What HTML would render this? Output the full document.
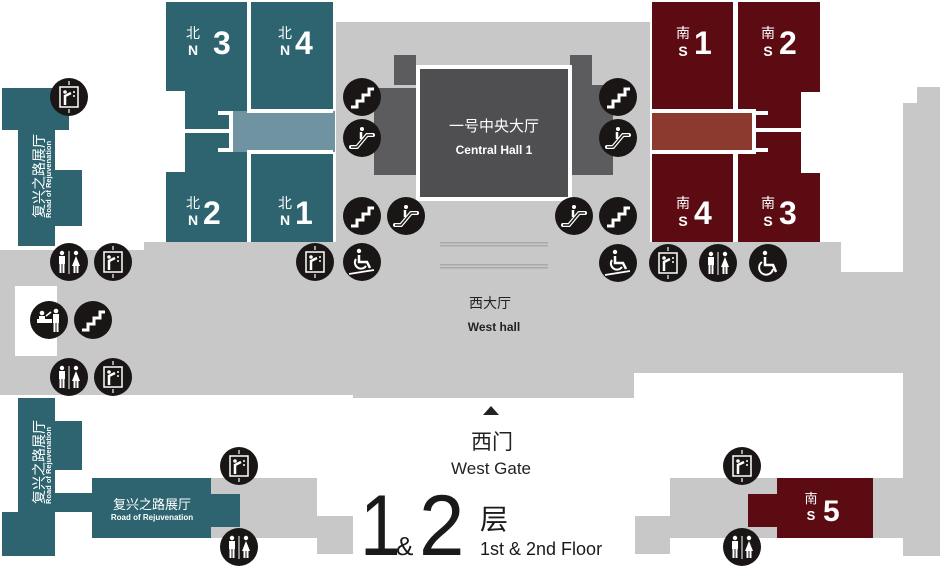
<!DOCTYPE html>
<html><head><meta charset="utf-8"><style>
html,body{margin:0;padding:0;background:#fff;width:940px;height:570px;overflow:hidden}
svg{display:block}
text{font-family:"Liberation Sans","Noto Sans CJK SC",sans-serif}
</style></head><body>
<svg width="940" height="570" viewBox="0 0 940 570" xmlns="http://www.w3.org/2000/svg">
<defs>
<symbol id="stairs" viewBox="-19 -19 38 38"><circle r="19" fill="#1a1616"/><path d="M-11 10 H-5 V4 H1 V-2 H7 V-8 H12" fill="none" stroke="#fff" stroke-width="3"/></symbol>
<symbol id="esc" viewBox="-19 -19 38 38"><circle r="19" fill="#1a1616"/><path d="M-11 9 H-5 L5 -3 H11" fill="none" stroke="#fff" stroke-width="4" stroke-linecap="round"/><path d="M-11 9 H-5 L5 -3 H11" fill="none" stroke="#1a1616" stroke-width="1.5"/><circle cx="0" cy="-9" r="2" fill="#fff"/><path d="M-1 -6 V1" stroke="#fff" stroke-width="2.5"/></symbol>
<symbol id="elev" viewBox="-19 -19 38 38"><circle r="19" fill="#1a1616"/><rect x="-9" y="-10" width="18" height="20" fill="none" stroke="#fff" stroke-width="1.5"/><circle cx="-4" cy="-5" r="1.8" fill="#fff"/><path d="M-4 -2 V8 M-4 -1 L2 -4" stroke="#fff" stroke-width="2.5"/><path d="M5 -6 V-4 M5 -2 V0" stroke="#fff" stroke-width="1.5"/><path d="M0 -16 V-12 M0 12 V16" stroke="#fff" stroke-width="1.2"/></symbol>
<symbol id="wc" viewBox="-19 -19 38 38"><circle r="19" fill="#1a1616"/><circle cx="-7" cy="-9" r="2.2" fill="#fff"/><rect x="-10" y="-6" width="6" height="8" fill="#fff"/><path d="M-8.5 2 V11 M-5.5 2 V11" stroke="#fff" stroke-width="2"/><path d="M0 -11 V12" stroke="#fff" stroke-width="1"/><circle cx="7" cy="-9" r="2.2" fill="#fff"/><path d="M7 -6 L3 4 H11 Z" fill="#fff"/><path d="M5.5 4 V11 M8.5 4 V11" stroke="#fff" stroke-width="2"/></symbol>
<symbol id="wheel" viewBox="-19 -19 38 38"><circle r="19" fill="#1a1616"/><circle cx="-3" cy="-10" r="2.2" fill="#fff"/><path d="M-3 -6 V2 H5 L8 9" fill="none" stroke="#fff" stroke-width="2.5"/><path d="M-6 -1 A7 7 0 1 0 5 6" fill="none" stroke="#fff" stroke-width="2"/></symbol>
<symbol id="wheelr" viewBox="-19 -19 38 38"><circle r="19" fill="#1a1616"/><circle cx="-3" cy="-11" r="2.2" fill="#fff"/><path d="M-3 -7 V0 H5 L8 6" fill="none" stroke="#fff" stroke-width="2.5"/><path d="M-6 -3 A6 6 0 1 0 4 4" fill="none" stroke="#fff" stroke-width="2"/><path d="M-13 12 L12 8" stroke="#fff" stroke-width="1.8"/></symbol>
<symbol id="info" viewBox="-19 -19 38 38"><circle r="19" fill="#1a1616"/><rect x="-12" y="-1" width="15" height="4" fill="#fff"/><circle cx="-7" cy="-7" r="2.3" fill="#fff"/><rect x="-10" y="-4" width="6" height="4" fill="#fff"/><circle cx="7" cy="-9" r="2.3" fill="#fff"/><rect x="4" y="-6" width="6" height="9" fill="#fff"/><path d="M5.5 3 V12 M8.5 3 V12" stroke="#fff" stroke-width="2"/><path d="M-3 -4 L2 -8" stroke="#fff" stroke-width="1.5"/></symbol>
</defs>

<g fill="#c8c8c9">
<rect x="336" y="22" width="314" height="222"/>
<rect x="144" y="242" width="697" height="60"/>
<rect x="0" y="250" width="144" height="145"/>
<rect x="0" y="272" width="940" height="101"/>
<rect x="144" y="290" width="490" height="105"/>
<rect x="353" y="290" width="281" height="108"/>
<rect x="903" y="103" width="37" height="453"/>
<rect x="917" y="87" width="23" height="30"/>
<rect x="211" y="478" width="106" height="60"/>
<rect x="317" y="516" width="36" height="38"/>
<rect x="670" y="478" width="233" height="60"/>
<rect x="635" y="516" width="35" height="38"/>
</g>
<rect x="15" y="286" width="42" height="70" fill="#fff"/>

<rect x="374" y="88" width="46" height="87" fill="#5c5b5d"/>
<rect x="394" y="55" width="22" height="30" fill="#5c5b5d"/>
<rect x="568" y="85" width="45" height="90" fill="#5c5b5d"/>
<rect x="570" y="55" width="22" height="30" fill="#5c5b5d"/>
<rect x="416" y="65" width="156" height="136" fill="#fff"/>
<rect x="420" y="69" width="148" height="128" fill="#4f4e50"/>
<g fill="#a9a9aa"><rect x="440" y="242" width="108" height="1.5"/><rect x="440" y="245" width="108" height="1.5"/><rect x="440" y="264" width="108" height="1.5"/><rect x="440" y="267" width="108" height="1.5"/></g>
<text x="494" y="131" font-size="15" fill="#fff" text-anchor="middle">一号中央大厅</text>
<text x="494" y="154" font-size="12" font-weight="bold" fill="#fff" text-anchor="middle">Central Hall 1</text>

<rect x="166" y="2" width="167" height="240" fill="#2d6470"/>
<rect x="166" y="91" width="19" height="81" fill="#fff"/>
<rect x="233" y="111" width="102" height="41" fill="#6f93a0"/>
<g fill="#fff">
<rect x="247" y="2" width="4" height="109"/><rect x="247" y="152" width="4" height="90"/>
<rect x="247" y="109" width="86" height="4"/><rect x="247" y="150" width="86" height="4"/>
<rect x="218" y="111" width="15" height="4"/><rect x="218" y="148" width="15" height="4"/><rect x="229" y="111" width="4" height="41"/>
<rect x="185" y="129" width="48" height="4"/>
</g>
<g fill="#fff" font-weight="bold">
<text x="193" y="38" font-size="14" font-weight="normal" text-anchor="middle">北</text><text x="193" y="55" font-size="14" text-anchor="middle">N</text><text x="213" y="54" font-size="32">3</text>
<text x="285" y="38" font-size="14" font-weight="normal" text-anchor="middle">北</text><text x="285" y="55" font-size="14" text-anchor="middle">N</text><text x="295" y="54" font-size="32">4</text>
<text x="193" y="208" font-size="14" font-weight="normal" text-anchor="middle">北</text><text x="193" y="225" font-size="14" text-anchor="middle">N</text><text x="203" y="224" font-size="32">2</text>
<text x="285" y="208" font-size="14" font-weight="normal" text-anchor="middle">北</text><text x="285" y="225" font-size="14" text-anchor="middle">N</text><text x="295" y="224" font-size="32">1</text>
</g>

<rect x="652" y="2" width="168" height="240" fill="#5c0b12"/>
<rect x="801" y="92" width="20" height="81" fill="#fff"/>
<rect x="652" y="111" width="100" height="41" fill="#8c3a2f"/>
<g fill="#fff">
<rect x="733" y="2" width="5" height="109"/><rect x="733" y="152" width="5" height="90"/>
<rect x="652" y="109" width="104" height="4"/><rect x="652" y="150" width="104" height="4"/>
<rect x="752" y="111" width="4" height="41"/><rect x="752" y="111" width="16" height="4"/><rect x="752" y="148" width="16" height="4"/>
<rect x="756" y="128" width="45" height="4"/>
</g>
<g fill="#fff" font-weight="bold">
<text x="683" y="38" font-size="14" font-weight="normal" text-anchor="middle">南</text><text x="683" y="56" font-size="14" text-anchor="middle">S</text><text x="694" y="54" font-size="32">1</text>
<text x="768" y="38" font-size="14" font-weight="normal" text-anchor="middle">南</text><text x="768" y="56" font-size="14" text-anchor="middle">S</text><text x="779" y="54" font-size="32">2</text>
<text x="683" y="208" font-size="14" font-weight="normal" text-anchor="middle">南</text><text x="683" y="226" font-size="14" text-anchor="middle">S</text><text x="694" y="224" font-size="32">4</text>
<text x="768" y="208" font-size="14" font-weight="normal" text-anchor="middle">南</text><text x="768" y="226" font-size="14" text-anchor="middle">S</text><text x="779" y="224" font-size="32">3</text>
</g>

<rect x="748" y="494" width="30" height="33" fill="#5c0b12"/>
<rect x="777" y="478" width="96" height="60" fill="#5c0b12"/>
<text x="811" y="503" font-size="13" fill="#fff" text-anchor="middle">南</text>
<text x="811" y="520" font-size="13" font-weight="bold" fill="#fff" text-anchor="middle">S</text>
<text x="823" y="521" font-size="30" font-weight="bold" fill="#fff">5</text>

<g fill="#2d6470">
<rect x="2" y="88" width="67" height="42"/>
<rect x="18" y="88" width="37" height="158"/>
<rect x="55" y="170" width="27" height="56"/>
</g>
<text transform="translate(44,218) rotate(-90)" font-size="14" fill="#fff">复兴之路展厅</text>
<text transform="translate(51,218) rotate(-90)" font-size="7.5" font-weight="bold" fill="#fff">Road of Rejuvenation</text>
<g fill="#2d6470">
<rect x="18" y="398" width="37" height="158"/>
<rect x="2" y="512" width="53" height="44"/>
<rect x="55" y="421" width="27" height="49"/>
<rect x="55" y="493" width="40" height="19"/>
<rect x="92" y="478" width="119" height="60"/>
<rect x="211" y="494" width="29" height="33"/>
</g>
<text transform="translate(44,504) rotate(-90)" font-size="14" fill="#fff">复兴之路展厅</text>
<text transform="translate(51,504) rotate(-90)" font-size="7.5" font-weight="bold" fill="#fff">Road of Rejuvenation</text>
<text x="152" y="509" font-size="13" fill="#fff" text-anchor="middle">复兴之路展厅</text>
<text x="152" y="520" font-size="8" font-weight="bold" fill="#fff" text-anchor="middle">Road of Rejuvenation</text>

<text x="490" y="308" font-size="14" fill="#222" text-anchor="middle">西大厅</text>
<text x="494" y="331" font-size="12" font-weight="bold" fill="#222" text-anchor="middle">West hall</text>
<path d="M483 415 L491 406 L499 415 Z" fill="#222"/>
<text x="492" y="449" font-size="21" fill="#222" text-anchor="middle">西门</text>
<text x="491" y="474" font-size="17" fill="#222" text-anchor="middle">West Gate</text>
<text x="0" y="0" font-size="86" fill="#1a1a1a" transform="translate(360,555) scale(0.85,1)">1</text>
<text x="396" y="555" font-size="26" fill="#1a1a1a">&amp;</text>
<text x="0" y="0" font-size="86" fill="#1a1a1a" transform="translate(419,555) scale(0.95,1)">2</text>
<text x="480" y="529" font-size="28" fill="#1a1a1a">层</text>
<text x="480" y="555" font-size="18" fill="#1a1a1a">1st &amp; 2nd Floor</text>

<use href="#elev" x="50" y="78" width="38" height="38"/>
<use href="#wc" x="50" y="243" width="38" height="38"/>
<use href="#elev" x="94" y="243" width="38" height="38"/>
<use href="#elev" x="296" y="243" width="38" height="38"/>
<use href="#wheelr" x="343" y="243" width="38" height="38"/>
<use href="#stairs" x="343" y="78" width="38" height="38"/>
<use href="#esc" x="343" y="119" width="38" height="38"/>
<use href="#stairs" x="343" y="197" width="38" height="38"/>
<use href="#esc" x="387" y="197" width="38" height="38"/>
<use href="#stairs" x="599" y="78" width="38" height="38"/>
<use href="#esc" x="599" y="119" width="38" height="38"/>
<use href="#esc" x="555" y="197" width="38" height="38"/>
<use href="#stairs" x="599" y="197" width="38" height="38"/>
<use href="#wheelr" x="599" y="244" width="38" height="38"/>
<use href="#elev" x="649" y="244" width="38" height="38"/>
<use href="#wc" x="699" y="244" width="38" height="38"/>
<use href="#wheel" x="749" y="244" width="38" height="38"/>
<use href="#info" x="30" y="301" width="38" height="38"/>
<use href="#stairs" x="74" y="301" width="38" height="38"/>
<use href="#wc" x="50" y="358" width="38" height="38"/>
<use href="#elev" x="94" y="358" width="38" height="38"/>
<use href="#elev" x="220" y="447" width="38" height="38"/>
<use href="#wc" x="220" y="528" width="38" height="38"/>
<use href="#elev" x="723" y="447" width="38" height="38"/>
<use href="#wc" x="723" y="528" width="38" height="38"/>
</svg>
</body></html>
